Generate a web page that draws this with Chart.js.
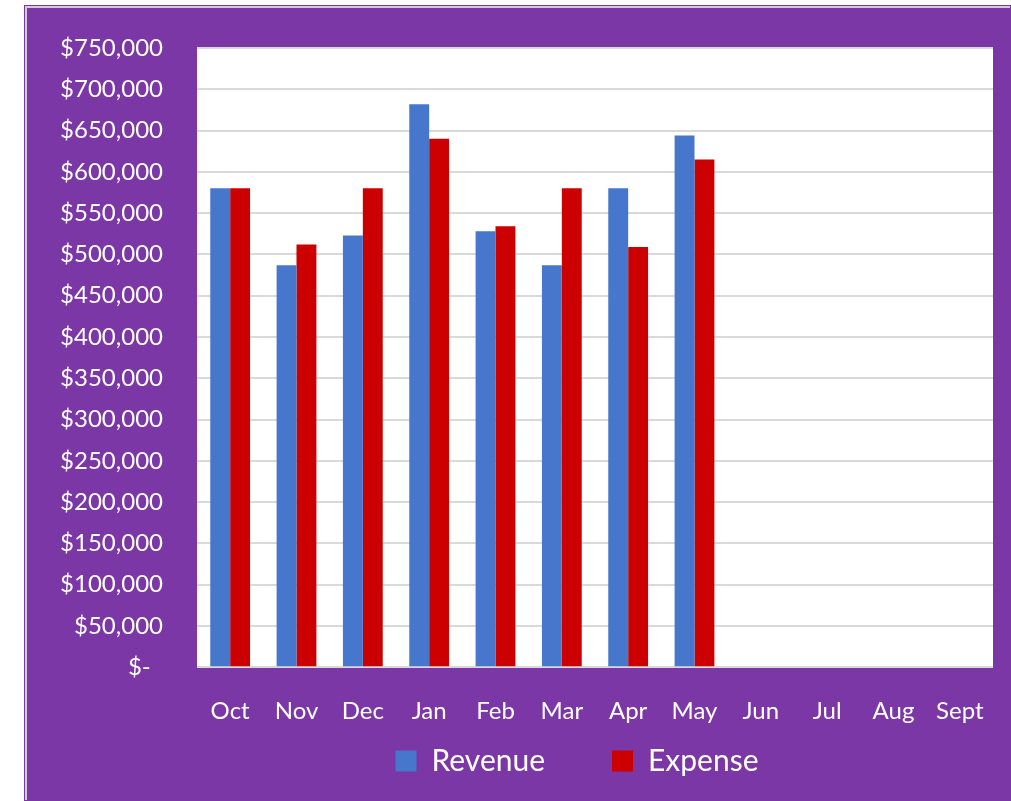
<!DOCTYPE html>
<html>
<head>
<meta charset="utf-8">
<script src="https://cdn.jsdelivr.net/npm/chart.js@4/dist/chart.umd.min.js"></script>
<style>
  html, body { margin: 0; padding: 0; background: #ffffff; }
  #frame {
    position: absolute; left: 24px; top: 5px;
    width: 986px; height: 795px;
    background: #7b37a6; padding: 1px 0 0 1px;
  }
  #panel {
    width: 985px; height: 794px;
    border-top: 2px solid #d4cadc; border-left: 2px solid #d4cadc;
    background: #7b37a6; box-sizing: border-box;
  }
  #wrap { width: 983px; height: 792px; position: relative; }
</style>
</head>
<body>
<div id="frame"><div id="panel"><div id="wrap"><canvas id="chart"></canvas></div></div></div>
<script>
// months of the fiscal year, only Oct-May have figures so far
const months = ['Oct', 'Nov', 'Dec', 'Jan', 'Feb', 'Mar', 'Apr', 'May', 'Jun', 'Jul', 'Aug', 'Sept'];
const revenue = [580000, 487000, 523000, 682000, 528000, 487000, 580000, 644000, null, null, null, null];
const expense = [580000, 512000, 580000, 640000, 534000, 580000, 509000, 615000, null, null, null, null];

const FONT = 'Lato, "Open Sans", sans-serif';

// paint the plot area white, the rest stays purple
const plotBackground = {
    id: 'plotBackground',
    beforeDraw(chart) {
        const a = chart.chartArea;
        const ctx = chart.ctx;
        ctx.save();
        ctx.fillStyle = '#ffffff';
        ctx.fillRect(a.left, a.top, a.right - a.left, a.bottom - a.top);
        ctx.restore();
    }
};

// wide gaps between legend items also mean a tall legend in Chart.js,
// so keep its layout box short and move it afterwards
const legendNudge = {
    id: 'legendNudge',
    afterLayout(chart) {
        const lg = chart.legend;
        lg.left += 62; lg.right += 62;
        lg.top -= 77;
    }
};

new Chart(document.getElementById('chart'), {
    type: 'bar',
    data: {
        labels: months,
        datasets: [
            { label: 'Revenue', data: revenue, backgroundColor: '#4677cc' },
            { label: 'Expense', data: expense, backgroundColor: '#cc0000' }
        ]
    },
    options: {
        responsive: true,
        maintainAspectRatio: false,
        animation: false,
        categoryPercentage: 0.6,
        barPercentage: 1.0,
        layout: { padding: { left: 10, right: 17, top: 40, bottom: 4 } },
        plugins: {
            tooltip: { enabled: false },
            legend: {
                position: 'bottom',
                maxHeight: 40,
                labels: {
                    color: '#ffffff',
                    font: { family: FONT, size: 30 },
                    boxWidth: 21,
                    boxHeight: 21,
                    padding: 67
                }
            }
        },
        scales: {
            x: {
                grid: { display: false, drawTicks: false },
                border: { display: false },
                ticks: { color: '#ffffff', font: { family: FONT, size: 24 }, padding: 30, maxRotation: 0, autoSkip: false },
                afterFit(scale) { scale.paddingLeft = 0; scale.paddingRight = 0; }
            },
            y: {
                min: 0,
                max: 750000,
                grid: { color: '#d9d9d9', lineWidth: 2, drawTicks: false },
                border: { display: false },
                ticks: {
                    stepSize: 50000,
                    color: '#ffffff',
                    font: { family: FONT, size: 24 },
                    padding: 34,
                    callback: v => v === 0 ? '$-  ' : '$' + v.toLocaleString('en-US')
                },
                // tick padding would otherwise push the plot top down
                afterFit(scale) { scale.width = 160; scale.paddingTop = 15; scale.paddingBottom = 15; }
            }
        }
    },
    plugins: [plotBackground, legendNudge]
});
</script>
</body>
</html>
